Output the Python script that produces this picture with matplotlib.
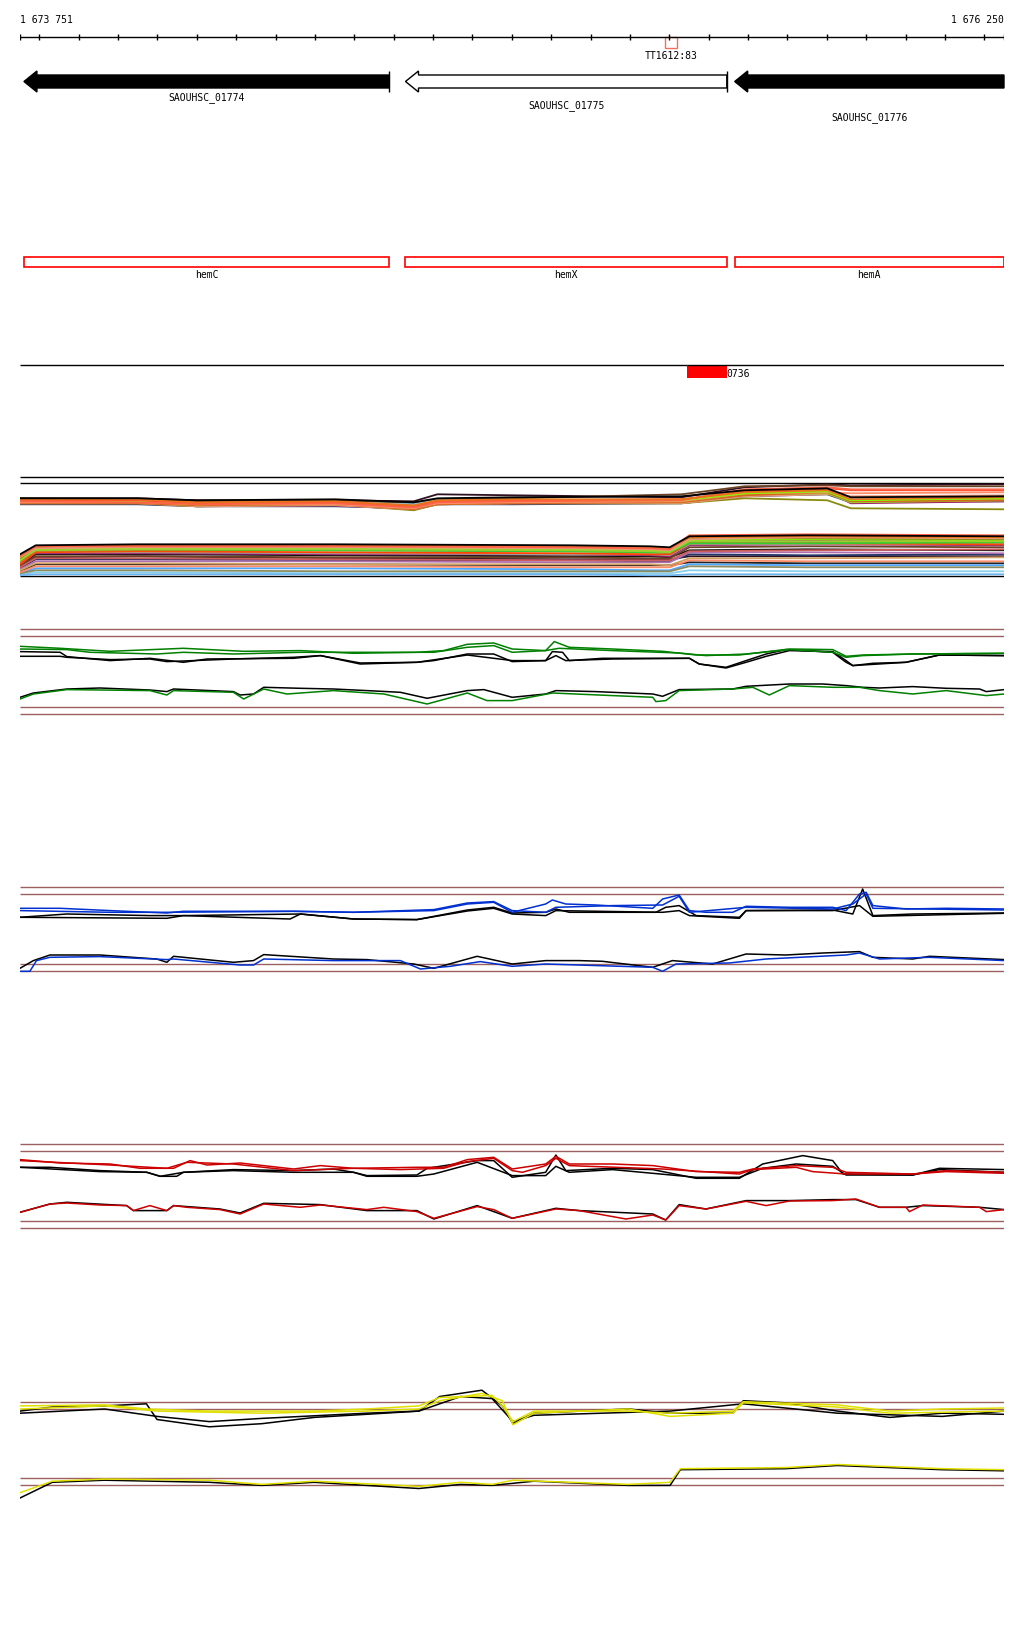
import matplotlib
matplotlib.use("Agg")
import matplotlib.pyplot as plt
from matplotlib.patches import Polygon, Rectangle

# region shown
START, END = 1673751, 1676250

# genes (start, end, name, filled) - all on minus strand
gene_names = ["SAOUHSC_01774", "SAOUHSC_01775", "SAOUHSC_01776"]
gene_starts = [1673761, 1674730, 1675566]
gene_ends = [1674689, 1675546, 1676250]
gene_filled = [True, False, True]

# feature names (second track)
feat_names = ["hemC", "hemX", "hemA"]
feat_starts = [1673761, 1674730, 1675566]
feat_ends = [1674689, 1675546, 1676250]

# small marker on ruler and the red feature
tt_label, tt_start, tt_end = "TT1612:83", 1675388, 1675419
red_label, red_start, red_end = "0736", 1675444, 1675546

# ---- multi-sample panel (bp offsets, signal) ----
up_pos = [0, 300, 450, 800, 1000, 1060, 1250, 1680, 1840, 2050, 2110, 2500]
up_lines = {
    "#223366": [72, 72, 70, 70, 68, 72, 72, 73, 80, 82, 74, 76],
    "#111111": [74, 74, 71, 72, 68, 73, 74, 75, 85, 87, 75, 75],
    "#2f1020": [78, 78, 76, 76, 75, 82, 81, 79, 89, 92, 91, 92],
    "#6b4226": [78, 77, 75, 76, 73, 77, 78, 82, 90, 91, 90, 90],
    "#9b1b6a": [73, 75, 70, 71, 67, 72, 73, 74, 82, 85, 73, 75],
    "#b070b0": [75, 75, 71, 73, 69, 74, 75, 75, 82, 84, 75, 77],
    "#c71585": [74, 75, 71, 72, 68, 73, 75, 75, 83, 85, 76, 78],
    "#a0a0a0": [76, 76, 72, 74, 71, 75, 75, 76, 83, 86, 76, 77],
    "#87ceeb": [77, 76, 73, 74, 72, 76, 76, 77, 83, 84, 77, 78],
    "#4da6ff": [75, 75, 73, 73, 70, 74, 75, 76, 82, 84, 75, 76],
    "#c0603a": [74, 74, 71, 72, 68, 73, 74, 74, 81, 83, 74, 76],
    "#d2a060": [75, 74, 72, 73, 69, 74, 74, 75, 82, 84, 75, 77],
    "#8a8a10": [73, 73, 70, 72, 66, 72, 73, 73, 78, 76, 68, 67],
    "#e9967a": [73, 73, 70, 71, 67, 72, 73, 73, 80, 82, 80, 81],
    "#9acd32": [75, 74, 71, 72, 69, 73, 74, 74, 82, 83, 74, 76],
    "#d2691e": [73, 73, 71, 72, 67, 72, 73, 74, 81, 84, 75, 76],
    "#ff8c69": [74, 74, 72, 72, 68, 73, 74, 75, 83, 84, 83, 84],
    "#7fff00": [76, 75, 72, 74, 70, 75, 76, 76, 83, 85, 76, 78],
    "#ff5030": [76, 76, 73, 74, 70, 75, 76, 77, 85, 88, 86, 86],
    "#ff6347": [75, 74, 72, 73, 69, 74, 75, 76, 87, 89, 87, 87],
    "#e8731c": [77, 77, 74, 75, 71, 76, 77, 77, 84, 86, 77, 79],
    "#000000": [78, 78, 76, 77, 74, 78, 79, 80, 86, 88, 79, 80],
}
lo_pos = [0, 40, 300, 800, 1400, 1600, 1650, 1700, 2000, 2500]
lo_lines = {
    "#111111": [10, 22, 22, 21, 20, 20, 19, 26, 27, 26],
    "#222222": [5, 12, 12, 12, 11, 11, 11, 14, 13, 13],
    "#2f1020": [11, 19, 20, 18, 17, 17, 17, 20, 20, 20],
    "#223366": [8, 17, 17, 16, 16, 15, 15, 22, 21, 22],
    "#6b4226": [11, 20, 20, 19, 19, 18, 18, 29, 30, 29],
    "#9b1b6a": [13, 23, 23, 22, 22, 21, 20, 31, 32, 31],
    "#b070b0": [7, 15, 15, 15, 14, 14, 14, 24, 24, 23],
    "#c71585": [14, 26, 27, 27, 26, 25, 24, 35, 36, 35],
    "#87ceeb": [2, 4, 4, 3, 3, 3, 3, 6, 5, 5],
    "#6cb4ee": [1, 2, 2, 2, 2, 1, 1, 2, 2, 2],
    "#4da6ff": [3, 8, 8, 8, 7, 6, 6, 12, 11, 11],
    "#8b8b60": [3, 6, 6, 5, 5, 5, 5, 10, 9, 9],
    "#a0a0a0": [14, 24, 24, 23, 22, 22, 21, 32, 32, 32],
    "#d2a060": [6, 13, 13, 12, 12, 12, 11, 18, 18, 19],
    "#cd5c5c": [9, 18, 18, 17, 16, 16, 16, 25, 26, 27],
    "#ff8c69": [4, 10, 10, 10, 9, 9, 9, 16, 15, 15],
    "#ff4500": [12, 24, 25, 24, 23, 22, 22, 33, 33, 32],
    "#d2691e": [15, 25, 26, 26, 25, 24, 23, 34, 34, 34],
    "#32cd32": [16, 27, 27, 26, 25, 24, 24, 33, 33, 34],
    "#7fff00": [16, 27, 28, 28, 27, 26, 25, 36, 37, 36],
    "#9acd32": [17, 26, 27, 27, 26, 25, 24, 35, 35, 35],
    "#8a8a10": [18, 29, 31, 30, 29, 28, 27, 38, 38, 37],
    "#e9967a": [19, 28, 29, 29, 28, 27, 26, 37, 39, 38],
    "#e8731c": [20, 30, 31, 31, 30, 29, 28, 39, 40, 39],
    "#ff6347": [21, 30, 30, 30, 29, 28, 27, 41, 42, 41],
    "#000000": [22, 31, 32, 32, 31, 30, 29, 40, 41, 40],
}
multi_refs = [0, 93, 99]

# ---- coverage panels: (bp offset, signal) ----
g_up1 = [(0, 68), (102, 66), (229, 63), (415, 66), (568, 63), (712, 63.7), (847, 61), (1008, 62), (1076, 63.7), (1136, 70), (1203, 71.3), (1250, 65.3), (1335, 63.7), (1357, 72.7), (1395, 67), (1505, 65.3), (1632, 63), (1717, 59.3), (1827, 59.3), (1954, 65.3), (2064, 64.7), (2098, 58), (2140, 59.3), (2267, 60.3), (2500, 61)]
g_up2 = [(0, 65.3), (119, 64.7), (178, 62), (347, 60.3), (415, 62), (542, 60.3), (712, 62), (1051, 62), (1136, 67), (1203, 68.7), (1250, 62), (1335, 63.7), (1369, 66), (1505, 63.7), (1674, 61.3), (1742, 58.7), (1844, 60.3), (1954, 64.7), (2064, 62), (2098, 57), (2140, 58.7), (2267, 60.3), (2500, 61)]
g_upk1 = [(0, 62.7), (102, 62), (119, 57.7), (229, 53.7), (330, 56), (415, 52), (475, 55.3), (695, 56), (763, 58.7), (864, 51.3), (1008, 52), (1051, 53.7), (1136, 60.3), (1203, 60.3), (1250, 52.7), (1335, 53.7), (1352, 62.7), (1378, 62), (1395, 53.7), (1479, 56), (1700, 56), (1725, 50.3), (1793, 47), (1844, 53.7), (1895, 60.3), (1945, 64.7), (2064, 62), (2098, 52), (2115, 48.7), (2166, 51), (2250, 52), (2335, 59.3), (2500, 58.7)]
g_upk2 = [(0, 58), (102, 58), (119, 57), (229, 54.7), (330, 55.3), (373, 52.7), (441, 53.7), (542, 55.3), (695, 57), (763, 58.7), (864, 50.3), (1008, 52), (1136, 59.3), (1250, 53.7), (1335, 53.7), (1361, 58.7), (1386, 53.7), (1505, 55.3), (1700, 56), (1725, 50.3), (1793, 46.3), (1844, 52), (1895, 58), (1954, 63.7), (2064, 62.7), (2098, 53.7), (2115, 48.7), (2250, 52), (2335, 59.3), (2500, 58.7)]
g_lok = [(0, 17), (34, 21.3), (119, 25.3), (203, 26.3), (330, 24.3), (373, 22.7), (390, 25.3), (542, 22.7), (559, 19.3), (593, 20.3), (619, 27), (712, 26), (796, 25.3), (881, 23.7), (966, 22), (1034, 16), (1136, 23.7), (1178, 24.7), (1250, 17), (1335, 20.3), (1361, 23.7), (1462, 22.7), (1607, 20.3), (1632, 18), (1657, 22), (1674, 24.7), (1810, 25.3), (1844, 28), (1954, 30.3), (2039, 30.3), (2098, 28.7), (2140, 27), (2183, 26.3), (2267, 27.7), (2352, 26), (2437, 25.3), (2454, 22.7), (2500, 24.7)]
g_lo1 = [(0, 15.3), (34, 20.3), (119, 24.7), (330, 23.7), (373, 19.3), (390, 23.7), (542, 22), (568, 15.3), (619, 25.3), (678, 20.3), (796, 23.7), (924, 20.3), (1034, 10.3), (1136, 21.3), (1186, 13.7), (1250, 13.7), (1352, 21.3), (1505, 18.7), (1607, 17), (1615, 12.7), (1640, 13.7), (1674, 23.7), (1810, 25.3), (1861, 27), (1903, 19.3), (1954, 28.7), (2064, 27), (2132, 27), (2183, 23.7), (2267, 20.3), (2352, 23.7), (2454, 18.7), (2500, 20.3)]

b_up1 = [(0, 63), (102, 63), (229, 60.7), (373, 58.3), (415, 60), (695, 60), (847, 59), (1051, 60.7), (1136, 67.3), (1203, 69), (1250, 59), (1335, 67.3), (1352, 71.3), (1386, 67.3), (1462, 66.3), (1607, 63), (1632, 72.3), (1674, 76.3), (1700, 60.7), (1742, 59), (1810, 59), (1844, 65), (1954, 64), (2064, 64), (2098, 60.7), (2132, 77.3), (2149, 79), (2166, 65.7), (2250, 62.3), (2352, 63), (2500, 62.3)]
b_up2 = [(0, 60.7), (229, 59), (373, 59), (695, 60), (847, 59), (1051, 61.7), (1136, 68.3), (1203, 69.7), (1250, 60.7), (1335, 59), (1361, 64), (1505, 65.7), (1632, 66.3), (1674, 75), (1700, 59), (1844, 64), (2064, 62.3), (2115, 67.3), (2149, 77.3), (2166, 63), (2500, 61.3)]
b_upk1 = [(0, 54), (119, 57.3), (330, 55.7), (415, 55.7), (686, 52.3), (712, 57.3), (847, 52.3), (1008, 51.7), (1136, 61.3), (1203, 64), (1250, 58.3), (1335, 59), (1361, 62.3), (1395, 59), (1479, 59), (1615, 59), (1640, 64), (1674, 65.7), (1717, 55.7), (1827, 54), (1844, 60.7), (2064, 61.3), (2115, 57.3), (2140, 82.3), (2166, 55.7), (2267, 57.3), (2500, 58.3)]
b_upk2 = [(0, 54), (373, 53), (415, 55.7), (712, 57.3), (847, 52.3), (1008, 51.7), (1136, 60.3), (1203, 63), (1250, 57.3), (1335, 55.7), (1361, 60.7), (1632, 59), (1674, 60.7), (1700, 55.7), (1827, 53), (1844, 60.7), (2064, 60.7), (2132, 65.7), (2166, 55), (2500, 58)]
b_lok = [(0, 3), (34, 10.7), (76, 16.3), (203, 16.3), (347, 12.3), (373, 9), (390, 15), (542, 9), (593, 10.7), (619, 16.7), (796, 12.3), (881, 11.7), (1000, 7.3), (1051, 3), (1161, 15), (1250, 7.3), (1335, 10.7), (1420, 10.7), (1479, 10), (1607, 4), (1657, 10.7), (1759, 7.3), (1844, 17.3), (1945, 16.3), (2039, 18.3), (2132, 19.7), (2166, 14), (2267, 12.3), (2310, 15), (2500, 11.7)]
b_lo1 = [(0, 0), (25, 0), (42, 10.7), (76, 14), (203, 14.7), (373, 11.7), (390, 12.3), (559, 6.3), (593, 6.3), (619, 12.3), (796, 10.7), (966, 10.7), (1017, 2.3), (1093, 5), (1169, 9.7), (1250, 5), (1335, 7.3), (1607, 4), (1632, 0), (1666, 7.3), (1801, 8.3), (1895, 12.3), (2098, 16.3), (2132, 18.3), (2183, 12.3), (2310, 14), (2500, 10.7)]

r_up1 = [(0, 68.7), (102, 65.3), (229, 64.3), (305, 60), (390, 60), (432, 67.7), (475, 63.3), (559, 65.3), (695, 59.3), (763, 62.7), (847, 60), (1008, 61), (1076, 61), (1136, 68.7), (1203, 71), (1250, 59.3), (1335, 64.3), (1361, 72), (1395, 64.3), (1505, 64.3), (1607, 62.7), (1717, 56.7), (1827, 56), (1861, 59.3), (1971, 62.7), (2064, 61), (2098, 56), (2267, 54.3), (2352, 57.7), (2500, 56)]
r_up2 = [(0, 67.7), (229, 63.3), (373, 60), (424, 66), (542, 64.3), (695, 57.7), (847, 60), (966, 58.7), (1076, 60), (1136, 66.7), (1203, 70), (1250, 57.7), (1276, 56), (1335, 62.7), (1361, 70), (1395, 62.7), (1632, 59.3), (1827, 54.3), (1861, 58.7), (1971, 61), (2013, 56.7), (2098, 54.3), (2267, 54.3), (2352, 56.7), (2500, 55)]
r_upk1 = [(0, 61), (76, 61), (203, 57.7), (322, 56), (356, 52), (398, 52), (415, 56), (542, 58.7), (695, 57.7), (796, 59.3), (847, 56), (881, 52.7), (1008, 53.3), (1034, 60), (1161, 67.7), (1203, 67.7), (1250, 51), (1335, 56), (1361, 73.3), (1386, 57.7), (1505, 60), (1607, 58.7), (1717, 50), (1827, 50), (1886, 64.3), (1988, 72.7), (2064, 67.7), (2090, 54.3), (2267, 53.3), (2335, 60), (2500, 58.7)]
r_upk2 = [(0, 61), (203, 56.7), (322, 56), (356, 52), (415, 56), (542, 57.7), (695, 56), (847, 56), (881, 52), (1008, 52), (1051, 54.3), (1161, 66), (1250, 52.7), (1335, 52.7), (1361, 62), (1395, 56), (1505, 58.7), (1717, 51), (1827, 51), (1886, 60), (1971, 64.3), (2064, 62), (2098, 53.3), (2267, 53.3), (2335, 58.7), (2500, 56)]
r_lo1 = [(0, 16), (76, 24.3), (119, 25.3), (203, 23.3), (271, 22.7), (288, 17.7), (330, 22.7), (373, 17.7), (390, 22.7), (424, 21), (508, 18.7), (559, 14.3), (619, 24.3), (712, 21), (763, 23.3), (881, 18.7), (924, 21), (1008, 16.7), (1051, 10), (1161, 21.7), (1203, 18.7), (1250, 10), (1361, 19.3), (1420, 17.7), (1539, 9.3), (1607, 13.3), (1640, 8.3), (1674, 22.7), (1742, 19.3), (1844, 27), (1895, 22.7), (1954, 27.3), (2064, 27.7), (2123, 29.3), (2183, 21), (2250, 21), (2259, 16.7), (2293, 23.3), (2437, 21), (2454, 16.7), (2500, 18.7)]
r_lok = [(0, 16), (76, 24.3), (119, 26), (271, 22.7), (288, 17.7), (373, 17.7), (390, 22.7), (508, 19.3), (559, 15.3), (619, 25), (763, 23.7), (881, 17.7), (1008, 17.7), (1051, 9.3), (1161, 22.7), (1250, 10), (1361, 20), (1420, 17.7), (1607, 14.3), (1640, 8.3), (1674, 23.7), (1742, 19.3), (1844, 27.7), (1954, 27.7), (2064, 28.7), (2123, 28.7), (2183, 21), (2250, 21), (2293, 22.7), (2437, 21), (2500, 18.7)]

y_up1 = [(0, 79.5), (215, 80.5), (321, 76.4), (481, 74.3), (747, 74.3), (880, 76.4), (1013, 79.5), (1066, 87.9), (1199, 90), (1225, 79.5), (1252, 63.8), (1305, 74.3), (1545, 74.3), (1651, 72.2), (1810, 74.3), (1837, 83.7), (2076, 80.5), (2209, 74.3), (2342, 76.4), (2499, 77.4)]
y_up2 = [(0, 76.4), (215, 79.5), (348, 74.3), (614, 72.2), (880, 74.3), (1013, 76.4), (1066, 84.7), (1173, 92), (1225, 84.7), (1252, 60.7), (1305, 72.2), (1545, 76.4), (1651, 69), (1810, 72.2), (1837, 82.6), (2076, 78.4), (2209, 72.2), (2499, 74.3)]
y_upk1 = [(0, 74.3), (82, 78.4), (215, 79.5), (321, 81.6), (348, 65.9), (481, 58.6), (614, 61.7), (747, 68), (880, 71.1), (1013, 74.3), (1066, 88.9), (1173, 95.2), (1225, 79.5), (1252, 61.7), (1305, 72.2), (1545, 76.4), (1651, 72.2), (1810, 72.2), (1837, 84.7), (1943, 82.6), (2076, 74.3), (2209, 68), (2342, 72.2), (2499, 71.1)]
y_upk2 = [(0, 72.2), (215, 76.4), (348, 69), (481, 63.8), (614, 67), (880, 72.2), (1013, 74.3), (1119, 88.9), (1199, 86.8), (1252, 63.8), (1305, 70.1), (1651, 74.3), (1837, 81.6), (2076, 72.2), (2342, 69), (2499, 74.3)]
y_lo1 = [(0, -7.3), (82, 4.2), (215, 6.3), (481, 5.2), (614, 1), (747, 4.2), (1013, -1), (1119, 3.1), (1199, 1), (1252, 5.2), (1545, 1), (1651, 3.1), (1677, 16.7), (1943, 17.8), (2076, 20.9), (2342, 16.7), (2499, 15.7)]
y_lok = [(0, -12.6), (82, 3.1), (215, 5.2), (481, 3.1), (614, 0), (747, 3.1), (1013, -3.1), (1119, 1), (1199, 0), (1305, 4.2), (1545, 0), (1651, 0), (1677, 15.7), (1943, 16.7), (2076, 19.9), (2342, 15.7), (2499, 14.6)]

REF = "#9c6060"

# panel: top px, bottom px, baseline px, ref levels, colour, coloured series, black series
panels = [
    (620, 720, 715.3, [0, 7, 78, 85], "#008000",
     [g_up1, g_up2, g_lo1], [g_upk1, g_upk2, g_lok]),
    (880, 980, 972.3, [0, 7, 77, 84.3], "#0030d0",
     [b_up1, b_up2, b_lo1], [b_upk1, b_upk2, b_lok]),
    (1135, 1235, 1229.3, [0, 7, 77, 84], "#cc0000",
     [r_up1, r_up2, r_lo1], [r_upk1, r_upk2, r_lok]),
    (1380, 1510, 1486.4, [0, 7.3, 76.4, 83.7], "#e0e000",
     [y_up1, y_up2, y_lo1], [y_upk1, y_upk2, y_lok]),
]

W, H = 1024, 1640
X0, X1 = 20, 1004
MONO = "DejaVu Sans Mono"

fig = plt.figure(figsize=(W / 100, H / 100), dpi=100)
fig.patch.set_facecolor("white")


def track(ytop, ybot):
    ax = fig.add_axes([X0 / W, 1 - ybot / H, (X1 - X0) / W, (ybot - ytop) / H])
    ax.set_xlim(START, END)
    ax.axis("off")
    return ax


# ---- ruler, genes and features (y in screen rows) ----
top = track(0, 400)
top.set_ylim(400, 0)
top.hlines(38, START, END, color="black", lw=1)
ticks = [START] + list(range(1673800, END, 100)) + [END]
top.vlines(ticks, 35, 41, color="black", lw=1)
top.text(START, 20, "1 673 751", ha="left", va="center", fontsize=7, family=MONO)
top.text(END, 20, "1 676 250", ha="right", va="center", fontsize=7, family=MONO)
top.add_patch(Rectangle((tt_start, 38), tt_end - tt_start, 11, fill=False,
                        edgecolor="#f07060", lw=1))
top.text((tt_start + tt_end) / 2, 56, tt_label, ha="center", va="center",
         fontsize=7, family=MONO)

head = 33
label_rows = [98, 106, 118]
for s, e, name, filled, ly in zip(gene_starts, gene_ends, gene_names, gene_filled, label_rows):
    pts = [(s, 82.5), (s + head, 72), (s + head, 76), (e, 76), (e, 89),
           (s + head, 89), (s + head, 93)]
    top.add_patch(Polygon(pts, closed=True, facecolor="black" if filled else "white",
                          edgecolor="black", lw=1, clip_on=False))
    if e < END:
        top.vlines(e, 72, 93, color="black", lw=1)
    top.text((s + e) / 2, ly, name, ha="center", va="center", fontsize=7, family=MONO)

for s, e, name in zip(feat_starts, feat_ends, feat_names):
    top.add_patch(Rectangle((s, 258), e - s, 10, fill=False, edgecolor="red", lw=1.2))
    top.text((s + e) / 2, 275, name, ha="center", va="center", fontsize=7, family=MONO)

top.hlines(366, START, END, color="black", lw=1)
top.add_patch(Rectangle((red_start, 367), red_end - red_start, 12, facecolor="red",
                        edgecolor="none"))
top.vlines(red_start, 366, 367, color="red", lw=1)
top.text(red_end, 374, red_label, ha="left", va="center", fontsize=7, family=MONO)

# ---- multi-sample panel ----
base = 577.3
ax = track(465, 582)
ax.set_ylim(base - 582, base - 465)
ax.hlines(multi_refs, START, END, color="black", lw=1)
for c, v in lo_lines.items():
    ax.plot([START + p for p in lo_pos], v, color=c, lw=1.3)
for c, v in up_lines.items():
    ax.plot([START + p for p in up_pos], v, color=c, lw=1.3)

# ---- coverage panels ----
for ytop, ybot, base, refs, col, coloured, blacks in panels:
    ax = track(ytop, ybot)
    ax.set_ylim(base - ybot, base - ytop)
    ax.hlines(refs, START, END, color=REF, lw=1)
    for ser in blacks:
        ax.plot([START + p for p, _ in ser], [v for _, v in ser], color="black", lw=1.1)
    for ser in coloured:
        ax.plot([START + p for p, _ in ser], [v for _, v in ser], color=col, lw=1.1)

fig.savefig("out.png", dpi=100, facecolor="white")
